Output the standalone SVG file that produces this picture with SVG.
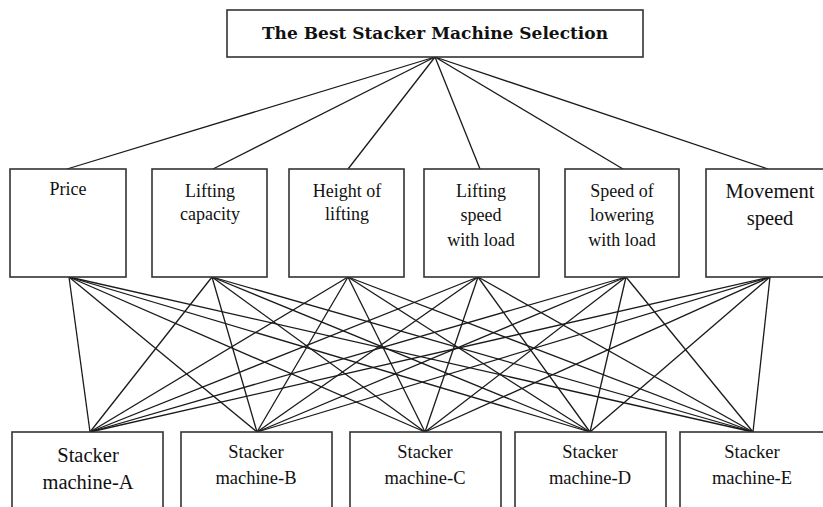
<svg xmlns="http://www.w3.org/2000/svg" width="823" height="507" viewBox="0 0 823 507">
<style>
.box{fill:#fff;stroke:#333;stroke-width:1.6}
.t{font-family:"Liberation Serif","DejaVu Serif",serif;fill:#111;text-anchor:middle}
.m{font-size:18px}
.b{font-size:18.5px}
.big{font-size:20.5px}
.title{font-family:"DejaVu Serif","Liberation Serif",serif;font-size:17px;font-weight:bold}
#connectors line{stroke:#1a1a1a;stroke-width:1.3}
</style>
<rect width="823" height="507" fill="#fff"/>
<g id="connectors">
<line x1="435" y1="57" x2="67" y2="169"/>
<line x1="435" y1="57" x2="213" y2="169"/>
<line x1="435" y1="57" x2="348" y2="169"/>
<line x1="435" y1="57" x2="480" y2="169"/>
<line x1="435" y1="57" x2="623" y2="169"/>
<line x1="435" y1="57" x2="768" y2="169"/>
<g id="lower">
<line x1="69" y1="277" x2="90" y2="432"/><line x1="69" y1="277" x2="257" y2="432"/><line x1="69" y1="277" x2="425" y2="432"/><line x1="69" y1="277" x2="590" y2="432"/><line x1="69" y1="277" x2="753" y2="432"/>
<line x1="212" y1="277" x2="90" y2="432"/><line x1="212" y1="277" x2="257" y2="432"/><line x1="212" y1="277" x2="425" y2="432"/><line x1="212" y1="277" x2="590" y2="432"/><line x1="212" y1="277" x2="753" y2="432"/>
<line x1="348" y1="277" x2="90" y2="432"/><line x1="348" y1="277" x2="257" y2="432"/><line x1="348" y1="277" x2="425" y2="432"/><line x1="348" y1="277" x2="590" y2="432"/><line x1="348" y1="277" x2="753" y2="432"/>
<line x1="478" y1="277" x2="90" y2="432"/><line x1="478" y1="277" x2="257" y2="432"/><line x1="478" y1="277" x2="425" y2="432"/><line x1="478" y1="277" x2="590" y2="432"/><line x1="478" y1="277" x2="753" y2="432"/>
<line x1="626" y1="277" x2="90" y2="432"/><line x1="626" y1="277" x2="257" y2="432"/><line x1="626" y1="277" x2="425" y2="432"/><line x1="626" y1="277" x2="590" y2="432"/><line x1="626" y1="277" x2="753" y2="432"/>
<line x1="770" y1="277" x2="90" y2="432"/><line x1="770" y1="277" x2="257" y2="432"/><line x1="770" y1="277" x2="425" y2="432"/><line x1="770" y1="277" x2="590" y2="432"/><line x1="770" y1="277" x2="753" y2="432"/>
</g>
</g>
<g id="goal">
<rect class="box" x="227" y="10" width="416" height="47"/>
<text class="t title" x="435" y="39">The Best Stacker Machine Selection</text>
</g>
<g id="price">
<rect class="box" x="10" y="169" width="116" height="108"/>
<text class="t m" x="68" y="195">Price</text>
</g>
<g id="lifting-capacity">
<rect class="box" x="152" y="169" width="115" height="108"/>
<text class="t m" x="210" y="197">Lifting</text>
<text class="t m" x="210" y="220">capacity</text>
</g>
<g id="height-of-lifting">
<rect class="box" x="289" y="169" width="115" height="108"/>
<text class="t m" x="347" y="197">Height of</text>
<text class="t m" x="347" y="220">lifting</text>
</g>
<g id="lifting-speed">
<rect class="box" x="424" y="169" width="115" height="108"/>
<text class="t m" x="481" y="197">Lifting</text>
<text class="t m" x="481" y="221">speed</text>
<text class="t m" x="481" y="246">with load</text>
</g>
<g id="speed-lowering">
<rect class="box" x="565" y="169" width="114" height="108"/>
<text class="t m" x="622" y="197">Speed of</text>
<text class="t m" x="622" y="221">lowering</text>
<text class="t m" x="622" y="246">with load</text>
</g>
<g id="movement-speed">
<rect class="box" x="706" y="169" width="120" height="108"/>
<text class="t big" x="770" y="198">Movement</text>
<text class="t big" x="770" y="225">speed</text>
</g>
<g id="machine-a">
<rect class="box" x="12" y="432" width="151" height="90"/>
<text class="t big" x="88" y="462">Stacker</text>
<text class="t big" x="88" y="489">machine-A</text>
</g>
<g id="machine-b">
<rect class="box" x="181" y="432" width="151" height="90"/>
<text class="t b" x="256" y="458">Stacker</text>
<text class="t b" x="256" y="484">machine-B</text>
</g>
<g id="machine-c">
<rect class="box" x="350" y="432" width="151" height="90"/>
<text class="t b" x="425" y="458">Stacker</text>
<text class="t b" x="425" y="484">machine-C</text>
</g>
<g id="machine-d">
<rect class="box" x="515" y="432" width="151" height="90"/>
<text class="t b" x="590" y="458">Stacker</text>
<text class="t b" x="590" y="484">machine-D</text>
</g>
<g id="machine-e">
<rect class="box" x="680" y="432" width="151" height="90"/>
<text class="t b" x="752" y="458">Stacker</text>
<text class="t b" x="752" y="484">machine-E</text>
</g>
</svg>
